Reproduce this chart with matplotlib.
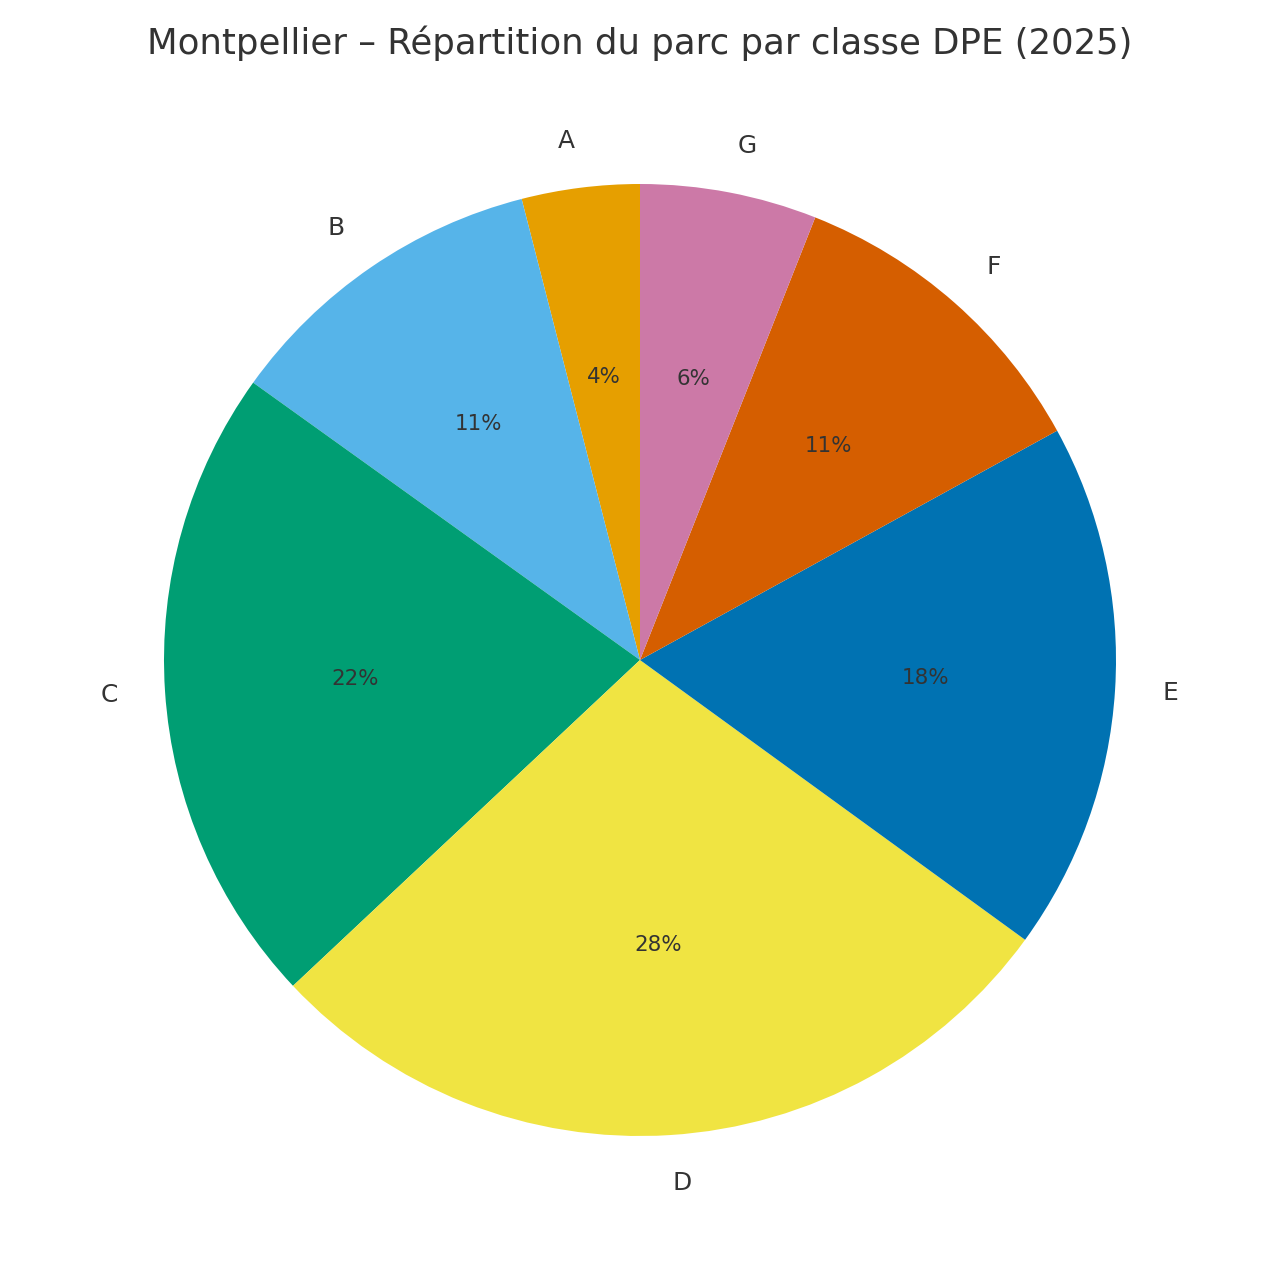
import matplotlib.pyplot as plt

classes = ['A', 'B', 'C', 'D', 'E', 'F', 'G']
shares = [4.0, 11.1, 21.9, 28.0, 18.0, 11.0, 6.0]
colors = ['#E69F00', '#56B4E9', '#009E73', '#F0E442', '#0072B2', '#D55E00', '#CC79A7']

plt.rcParams['font.family'] = ['DejaVu Sans']
plt.rcParams['text.color'] = '#333333'

fig = plt.figure(figsize=(10, 10), dpi=128)
ax = fig.add_axes([45 / 1280, 25 / 1280, 1190 / 1280, 1190 / 1280])
wedges, texts, autotexts = ax.pie(shares, labels=classes, colors=colors, startangle=90,
                                  counterclock=True, autopct='%1.0f%%',
                                  pctdistance=0.6, labeldistance=1.1,
                                  textprops={'fontsize': 14, 'color': '#333333'})
for t in autotexts:
    t.set_fontsize(12)
ax.set_title('Montpellier – Répartition du parc par classe DPE (2025)', fontsize=20,
             color='#333333', pad=6)
plt.savefig('out.png', dpi=128)
